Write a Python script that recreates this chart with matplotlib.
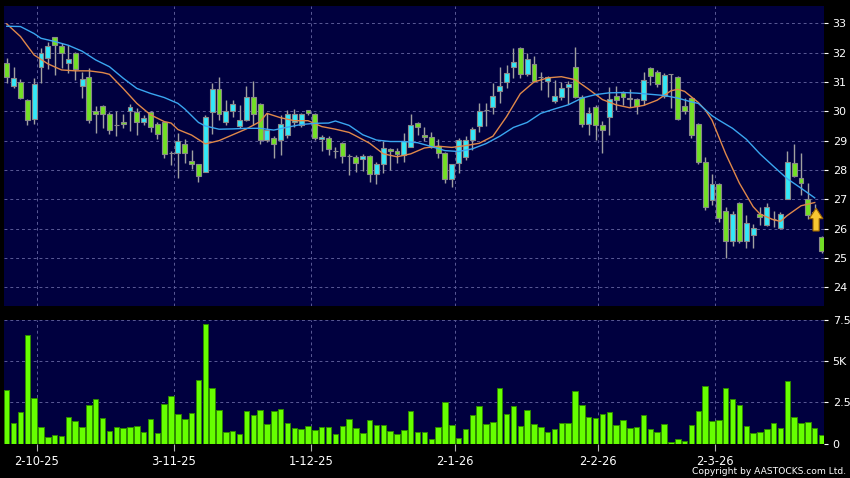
import matplotlib
matplotlib.use("Agg")
import matplotlib.pyplot as plt
from matplotlib.patches import FancyArrow

# --- daily OHLC (index = trading day, 0 = first bar shown) ---
opens = [31.64, 30.85, 31.00, 30.40, 29.73, 31.50, 31.81, 32.52, 32.24, 31.64,
         31.98, 30.86, 31.18, 30.01, 30.18, 29.91, 29.53, 29.65, 30.02, 29.99,
         29.62, 29.98, 29.56, 29.63, 28.57, 28.59, 28.88, 28.31, 28.22, 27.92,
         29.99, 30.77, 29.63, 30.02, 29.51, 29.69, 30.48, 30.26, 29.01, 29.10,
         29.02, 29.19, 29.65, 29.53, 30.03, 29.91, 29.06, 29.08, 28.63, 28.91,
         28.48, 28.45, 28.38, 28.49, 27.85, 28.22, 28.70, 28.65, 28.50, 28.79,
         29.59, 29.20, 29.13, 28.83, 28.57, 27.68, 28.23, 28.43, 29.01, 29.50,
         30.04, 30.14, 30.70, 30.99, 31.52, 32.15, 31.27, 31.60, 31.16, 31.05,
         30.34, 30.50, 30.84, 31.50, 30.50, 29.57, 30.14, 29.53, 29.80, 30.52,
         30.61, 30.46, 30.41, 30.38, 31.49, 31.35, 30.53, 31.26, 31.16, 30.18,
         30.46, 29.56, 28.26, 26.98, 27.51, 26.60, 25.59, 26.89, 25.59, 25.78,
         26.49, 26.12, 26.33, 26.01, 27.00, 28.23, 27.74, 27.00, 26.58, 25.70]
highs = [31.81, 31.50, 31.10, 30.42, 31.13, 32.15, 32.37, 32.55, 32.32, 32.26,
         32.03, 31.35, 31.46, 30.18, 30.20, 29.99, 30.00, 29.91, 30.24, 30.10,
         29.87, 30.00, 29.63, 29.65, 28.65, 29.25, 29.05, 28.68, 28.22, 29.87,
         30.95, 31.17, 30.39, 30.39, 30.20, 30.87, 31.03, 30.30, 29.93, 29.15,
         29.88, 30.05, 30.08, 29.95, 30.06, 29.95, 29.20, 29.15, 28.80, 28.95,
         28.54, 28.50, 28.54, 28.52, 28.28, 28.99, 28.74, 28.74, 29.25, 29.91,
         29.63, 29.47, 29.30, 29.05, 28.60, 28.22, 29.10, 29.16, 29.45, 30.29,
         30.30, 30.95, 31.52, 31.58, 32.15, 32.20, 31.98, 31.87, 31.35, 31.20,
         31.07, 31.00, 31.05, 32.18, 30.55, 30.16, 30.20, 29.67, 30.82, 30.86,
         30.70, 30.76, 30.45, 31.33, 31.52, 31.41, 31.30, 31.28, 31.20, 30.47,
         30.50, 29.60, 28.45, 27.85, 27.55, 26.74, 26.60, 26.92, 26.46, 26.15,
         26.74, 26.86, 26.60, 26.58, 28.65, 28.88, 28.57, 27.55, 26.85, 25.75]
lows = [30.95, 30.80, 30.42, 29.52, 29.57, 30.95, 31.43, 31.24, 31.47, 31.32,
        31.07, 30.44, 29.59, 29.25, 29.42, 29.23, 29.16, 29.42, 29.33, 29.19,
        29.53, 29.30, 29.06, 28.42, 28.17, 27.74, 28.23, 28.03, 27.60, 27.92,
        29.22, 29.70, 29.53, 29.80, 29.42, 29.66, 29.53, 28.90, 28.97, 28.40,
        28.51, 29.10, 29.48, 29.45, 29.86, 29.02, 28.63, 28.51, 28.40, 28.23,
        27.83, 27.94, 27.97, 27.60, 27.51, 27.89, 28.00, 28.23, 28.28, 28.77,
        29.20, 29.00, 28.75, 28.40, 27.57, 27.41, 27.89, 28.34, 28.68, 29.30,
        29.50, 29.91, 30.27, 30.78, 31.13, 31.13, 31.20, 31.00, 30.73, 30.50,
        30.30, 30.39, 30.25, 30.45, 29.47, 29.19, 29.03, 28.59, 29.19, 30.05,
        30.20, 30.16, 29.90, 30.22, 30.90, 30.84, 30.45, 30.10, 29.70, 29.90,
        29.08, 28.20, 26.64, 26.80, 26.22, 25.01, 25.41, 25.50, 25.33, 25.35,
        26.12, 26.10, 26.05, 25.98, 27.00, 27.75, 27.15, 26.32, 26.40, 25.16]
closes = [31.16, 31.12, 30.44, 29.70, 30.94, 31.98, 32.24, 32.26, 31.98, 31.80,
          31.43, 31.10, 29.70, 29.92, 29.91, 29.36, 29.53, 29.57, 30.14, 29.62,
          29.76, 29.45, 29.22, 28.53, 28.57, 29.00, 28.57, 28.19, 27.78, 29.80,
          30.77, 29.91, 30.02, 30.24, 29.69, 30.48, 29.90, 29.01, 29.36, 28.88,
          29.56, 29.91, 29.91, 29.90, 29.93, 29.08, 29.12, 28.70, 28.63, 28.48,
          28.48, 28.23, 28.49, 27.85, 28.19, 28.74, 28.63, 28.53, 29.00, 29.52,
          29.46, 29.14, 28.79, 28.57, 27.68, 28.20, 29.01, 29.01, 29.41, 30.00,
          30.04, 30.52, 30.86, 31.32, 31.69, 31.27, 31.80, 31.03, 31.16, 31.16,
          30.52, 30.81, 30.92, 30.50, 29.57, 29.95, 29.53, 29.36, 30.42, 30.38,
          30.50, 30.41, 30.18, 31.07, 31.20, 30.93, 31.24, 31.26, 29.74, 30.02,
          29.19, 28.28, 26.73, 27.51, 26.35, 25.59, 26.49, 25.59, 26.18, 26.03,
          26.41, 26.73, 26.33, 26.49, 28.28, 27.80, 27.55, 26.46, 26.49, 25.25]

# volume in thousands
volumes = [3.24, 1.26, 1.89, 6.57, 2.76, 1.01, 0.39, 0.49, 0.45, 1.58,
           1.36, 0.97, 2.33, 2.68, 1.56, 0.73, 0.97, 0.95, 0.99, 1.07,
           0.67, 1.48, 0.61, 2.39, 2.86, 1.76, 1.46, 1.82, 3.85, 7.20,
           3.34, 2.05, 0.67, 0.75, 0.55, 1.97, 1.70, 2.03, 1.18, 1.95,
           2.07, 1.22, 0.93, 0.89, 1.07, 0.79, 0.99, 1.01, 0.59, 1.03,
           1.46, 0.91, 0.63, 1.40, 1.09, 1.11, 0.75, 0.57, 0.81, 1.95,
           0.67, 0.67, 0.28, 0.97, 2.51, 1.11, 0.36, 0.87, 1.72, 2.27,
           1.18, 1.30, 3.36, 1.80, 2.25, 1.05, 2.05, 1.20, 0.99, 0.69,
           0.85, 1.22, 1.24, 3.20, 2.33, 1.60, 1.56, 1.80, 1.91, 1.09,
           1.42, 0.95, 0.97, 1.74, 0.87, 0.69, 1.16, 0.10, 0.26, 0.14,
           1.11, 1.99, 3.49, 1.38, 1.40, 3.36, 2.70, 2.33, 1.05, 0.65,
           0.69, 0.85, 1.22, 0.93, 3.77, 1.62, 1.22, 1.32, 0.91, 0.53]

# moving averages (bar index, value)
ma10_x = [0, 2, 4, 6, 8, 10, 12, 14, 15, 17, 19, 21, 23, 24, 25, 27, 29, 31, 33,
          35, 37, 38, 40, 42, 44, 46, 48, 50, 51, 53, 55, 57, 59, 61, 63, 65, 67,
          69, 71, 73, 75, 77, 79, 81, 83, 85, 87, 89, 91, 93, 95, 97, 98, 99, 101,
          102, 103, 105, 107, 109, 110, 112, 113, 114, 116, 118]
ma10_y = [32.98, 32.55, 31.92, 31.62, 31.41, 31.38, 31.38, 31.32, 31.26, 30.78,
          30.27, 29.88, 29.65, 29.60, 29.38, 29.19, 28.89, 29.00, 29.20, 29.40,
          29.65, 29.93, 29.78, 29.68, 29.68, 29.48, 29.39, 29.28, 29.16, 28.91,
          28.55, 28.45, 28.55, 28.75, 28.81, 28.77, 28.83, 28.91, 29.15, 29.82,
          30.60, 31.00, 31.14, 31.18, 31.08, 30.75, 30.40, 30.22, 30.12, 30.20,
          30.38, 30.70, 30.75, 30.68, 30.30, 30.05, 29.70, 28.55, 27.55, 26.75,
          26.50, 26.30, 26.25, 26.45, 26.78, 26.89]
ma20_x = [0, 2, 4, 5, 7, 9, 11, 13, 15, 17, 19, 21, 23, 25, 26, 28, 29, 31, 33,
          35, 37, 39, 41, 43, 45, 47, 48, 50, 52, 54, 56, 58, 60, 62, 64, 66, 68,
          70, 72, 74, 76, 78, 80, 82, 84, 86, 88, 90, 92, 94, 96, 98, 100, 101,
          103, 104, 106, 108, 110, 112, 114, 116, 118]
ma20_y = [32.90, 32.89, 32.65, 32.49, 32.38, 32.25, 32.05, 31.75, 31.52, 31.13,
          30.78, 30.61, 30.47, 30.27, 30.08, 29.62, 29.50, 29.39, 29.40, 29.42,
          29.42, 29.36, 29.46, 29.55, 29.59, 29.60, 29.67, 29.52, 29.20, 29.02,
          28.97, 28.97, 28.93, 28.80, 28.66, 28.63, 28.72, 28.90, 29.15, 29.45,
          29.62, 29.93, 30.08, 30.22, 30.45, 30.57, 30.63, 30.64, 30.62, 30.58,
          30.54, 30.45, 30.32, 30.27, 29.85, 29.70, 29.42, 29.05, 28.55, 28.12,
          27.70, 27.38, 27.05]

# month-start trading days and their labels
month_idx = [4, 24, 44, 65, 86, 103]
month_labels = ["2-10-25", "3-11-25", "1-12-25", "2-1-26", "2-2-26", "2-3-26"]
price_ticks = [24, 25, 26, 27, 28, 29, 30, 31, 32, 33]
vol_ticks = [0, 2.5, 5, 7.5]
vol_tick_labels = ["0", "2.5", "5K", "7.5"]
arrow_day = 118

BG = "#00003f"
GRID = "#5a5a96"
UP = "#33e8f8"
DOWN = "#72e024"
WICK = "#a0a0a0"

fig = plt.figure(figsize=(8.5, 4.78), dpi=100, facecolor="black")
ax = fig.add_axes([4 / 850, 1 - 305.5 / 478, 820.3 / 850, 299.5 / 478])
axv = fig.add_axes([4 / 850, 1 - 443.5 / 478, 820.3 / 850, 124 / 478])

n = len(closes)
xs = list(range(n))
grid_pos = [m + 0.4 for m in month_idx]

for a in (ax, axv):
    a.set_facecolor(BG)
    for s in a.spines.values():
        s.set_visible(False)
    a.set_xlim(-0.4, 119.4)
    a.set_xticks(grid_pos)
    a.yaxis.tick_right()
    a.grid(True, color=GRID, linestyle=(0, (3, 3)), linewidth=0.7)
    a.set_axisbelow(True)

# --- candles ---
colors = [UP if c > o else DOWN for o, c in zip(opens, closes)]
bottoms = [min(o, c) for o, c in zip(opens, closes)]
heights = [max(abs(c - o), 0.01) for o, c in zip(opens, closes)]
ax.vlines(xs, lows, highs, color=WICK, linewidth=1, zorder=2)
ax.bar(xs, heights, bottom=bottoms, width=0.72, color=colors,
       edgecolor="#8a8a8a", linewidth=0.8, zorder=3)

ax.plot(ma10_x, ma10_y, color="#e0884a", linewidth=1, zorder=4)
ax.plot(ma20_x, ma20_y, color="#3aa6f0", linewidth=1, zorder=4)

ax.add_patch(FancyArrow(arrow_day + 0.2, 25.92, 0, 0.78, width=0.9, head_width=2.0,
                        head_length=0.36, length_includes_head=True,
                        facecolor="#f8c632", edgecolor="#9a6400", linewidth=0.8, zorder=6))

ax.set_ylim(23.38, 33.59)
ax.set_yticks(price_ticks)
ax.set_yticklabels([str(t) for t in price_ticks])
ax.tick_params(axis="y", colors="white", labelsize=8, length=3, pad=3)
ax.tick_params(axis="x", length=0, labelbottom=False)

# --- volume ---
axv.bar(xs, volumes, width=0.8, color="#66ff00", edgecolor="#2e8a00", linewidth=0.7, zorder=3)
axv.set_ylim(0, 7.5)
axv.set_yticks(vol_ticks)
axv.set_yticklabels(vol_tick_labels)
axv.set_xticklabels(month_labels)
axv.tick_params(axis="y", colors="white", labelsize=8, length=3, pad=3)
axv.tick_params(axis="x", colors="#b0b0b0", labelcolor="white", labelsize=8.3,
                length=5, pad=3)

fig.text(846 / 850, 1 - 471 / 478, "Copyright by AASTOCKS.com Ltd.", color="white",
         fontsize=6.6, ha="right", va="center")

fig.savefig("out.png", dpi=100, facecolor="black")
